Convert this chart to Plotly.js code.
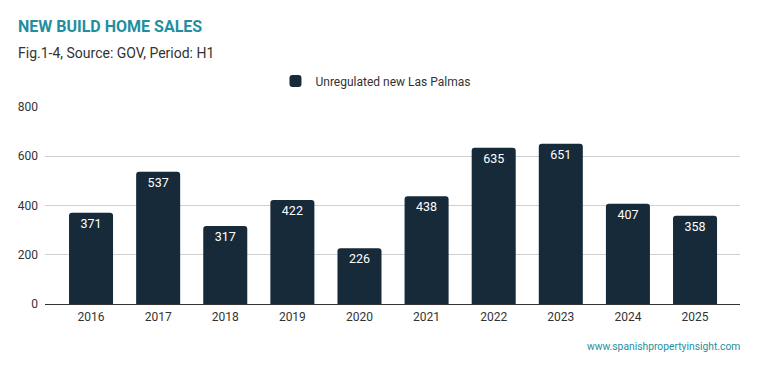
<!DOCTYPE html>
<html><head><meta charset="utf-8">
<script src="https://cdn.plot.ly/plotly-3.0.1.min.js"></script>
<style>html,body{margin:0;padding:0;background:#fff}#c{width:759px;height:371px}</style>
</head><body><div id="c"></div>
<script>
const years = ['2016','2017','2018','2019','2020','2021','2022','2023','2024','2025'];
const sales = [371, 537, 317, 422, 226, 438, 635, 651, 407, 358];
const seriesName = 'Unregulated new Las Palmas';
const yTicks = [0, 200, 400, 600, 800];

const trace = {
  type: 'bar', x: years, y: sales, name: seriesName,
  marker: {color: '#172a3a'},
  width: 0.656,
  text: sales.map(String), textposition: 'inside', insidetextanchor: 'end',
  textfont: {color: '#ffffff', size: 12.5, family: 'Roboto'},
  textangle: 0, cliponaxis: false
};
const layout = {
  width: 759, height: 371,
  margin: {l: 45, r: 19, t: 107, b: 67},
  paper_bgcolor: '#fff', plot_bgcolor: '#fff',
  font: {family: 'Roboto', color: '#333'},
  barcornerradius: 3,
  showlegend: true,
  legend: {orientation: 'h', x: 0.4755, xanchor: 'center', y: 1.132, yanchor: 'middle',
    font: {size: 12, color: '#333'}},
  xaxis: {type: 'category', range: [-0.686, 9.67], showgrid: false, ticks: '',
    tickfont: {size: 12, color: '#333'}, showline: true, linecolor: '#333', linewidth: 1,
    ticklabelstandoff: 2},
  yaxis: {range: [0, 800], tickvals: yTicks, gridcolor: '#d0d0d0', zeroline: false,
    tickfont: {size: 12, color: '#333'}, ticks: '', ticklabelstandoff: 6},
  annotations: [
    {text: '<b>NEW BUILD HOME SALES</b>', xref: 'paper', yref: 'paper', x: -0.042, y: 1.0,
      xanchor: 'left', yanchor: 'middle', yshift: 81, showarrow: false,
      font: {size: 16, color: '#1f8fa0', family: 'Roboto'}},
    {text: 'Fig.1-4, Source: GOV, Period: H1', xref: 'paper', yref: 'paper', x: -0.042, y: 1.0,
      xanchor: 'left', yanchor: 'middle', yshift: 54, showarrow: false,
      font: {size: 14, color: '#333', family: 'Roboto'}},
    {text: 'www.spanishpropertyinsight.com', xref: 'paper', yref: 'paper', x: 1.0, y: 0,
      xanchor: 'right', yanchor: 'middle', yshift: -42, xshift: 2, showarrow: false,
      font: {size: 10.3, color: '#1f8fa0', family: 'Roboto'}}
  ]
};
Plotly.newPlot('c', [trace], layout, {displayModeBar: false, staticPlot: true});
</script></body></html>
